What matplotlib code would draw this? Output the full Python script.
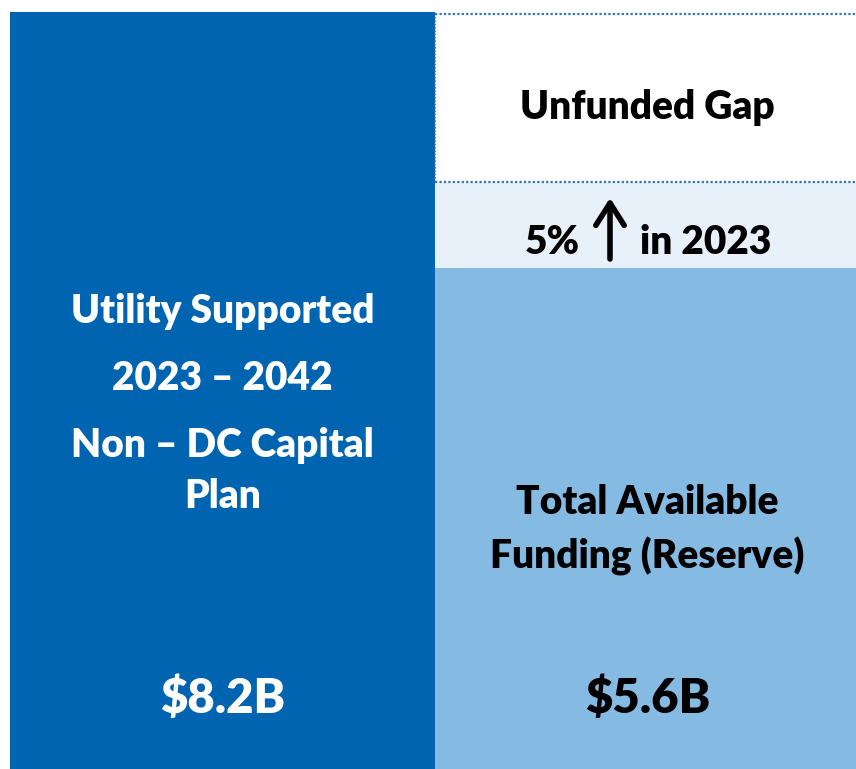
import matplotlib
matplotlib.use("Agg")
import matplotlib.pyplot as plt

# ---- data ----
categories = ["Capital Plan", "Funding"]
plan_total = 8.2            # $B, utility supported non-DC capital plan
available_funding = 5.6     # $B, total available funding (reserve)
increase_band = 0.87        # portion covered by 5% increase in 2023 (as drawn)
unfunded_gap = plan_total - available_funding - increase_band

plan_labels = ["Utility Supported", "2023 \u2013 2042", "Non \u2013 DC Capital", "Plan"]
funding_labels = ["Total Available", "Funding (Reserve)"]
plan_value_label = "$8.2B"
funding_value_label = "$5.6B"
gap_label = "Unfunded Gap"
increase_label_left = "5%"
increase_label_right = "in 2023"

DARK = "#0064B0"
LIGHT = "#85BAE3"
BAND = "#E8F0FA"
DOT = "#2E75B6"

plt.rcParams['font.family'] = ['Lato', 'DejaVu Sans']

fig = plt.figure(figsize=(8.56, 7.69), dpi=100)
ax = fig.add_axes([0, 0, 1, 1])
X0, XPX = -0.5235, 425.0
ax.set_xlim(X0, X0 + 856 / XPX)
ax.set_ylim(0.502, 8.327)
ax.axis('off')

# left bar
ax.bar(0, plan_total, width=1.0, color=DARK, align='center')
# right stacked bar
ax.bar(1, available_funding, width=1.0, color=LIGHT)
ax.bar(1, increase_band, bottom=available_funding, width=1.0, color=BAND)
ax.bar(1, unfunded_gap, bottom=available_funding + increase_band, width=1.0,
       color="white")
# dotted borders
y_band_top = available_funding + increase_band
ax.plot([0.5, 1.5], [y_band_top, y_band_top], color=DOT, lw=1.6, ls=(0, (1, 1)))
ax.plot([0.5, 1.5], [plan_total - 0.02, plan_total - 0.02], color=DOT, lw=1.6,
        ls=(0, (1, 1)))
ax.plot([0.5, 0.5], [y_band_top, plan_total], color=DOT, lw=1.2, ls=(0, (1, 1)))

# texts (positions given in pixel fractions)
def fy(ypix):
    return 1 - ypix / 769.0

def fx(xpix):
    return X0 + xpix / XPX

W = 'heavy'
FS = 28
tr = ax.get_xaxis_transform()
for lab, yp in zip(plan_labels, [311, 379, 446, 497]):
    ax.text(0, fy(yp), lab, transform=tr, ha='center', va='center',
            color='white', fontsize=FS, fontweight=W)
ax.text(0, fy(699), plan_value_label, transform=tr, ha='center', va='center',
        color='white', fontsize=34, fontweight=W)

ax.text(1, fy(108), gap_label, transform=tr, ha='center', va='center',
        color='black', fontsize=FS, fontweight=W)
ax.text(fx(580), fy(242), increase_label_left, transform=tr, ha='right',
        va='center', color='black', fontsize=FS, fontweight=W)
ax.text(fx(640), fy(242), increase_label_right, transform=tr, ha='left',
        va='center', color='black', fontsize=FS, fontweight=W)
ax.annotate("", xy=(fx(610), fy(198)), xytext=(fx(610), fy(259)), xycoords=tr,
            textcoords=tr,
            arrowprops=dict(arrowstyle='->,head_length=0.5,head_width=0.32',
                            lw=4, color='black', mutation_scale=32,
                            shrinkA=0, shrinkB=0))
for lab, yp in zip(funding_labels, [503, 556]):
    ax.text(1, fy(yp), lab, transform=tr, ha='center', va='center',
            color='black', fontsize=FS, fontweight=W)
ax.text(1, fy(699), funding_value_label, transform=tr, ha='center', va='center',
        color='black', fontsize=34, fontweight=W)

fig.savefig("out.png", dpi=100)
